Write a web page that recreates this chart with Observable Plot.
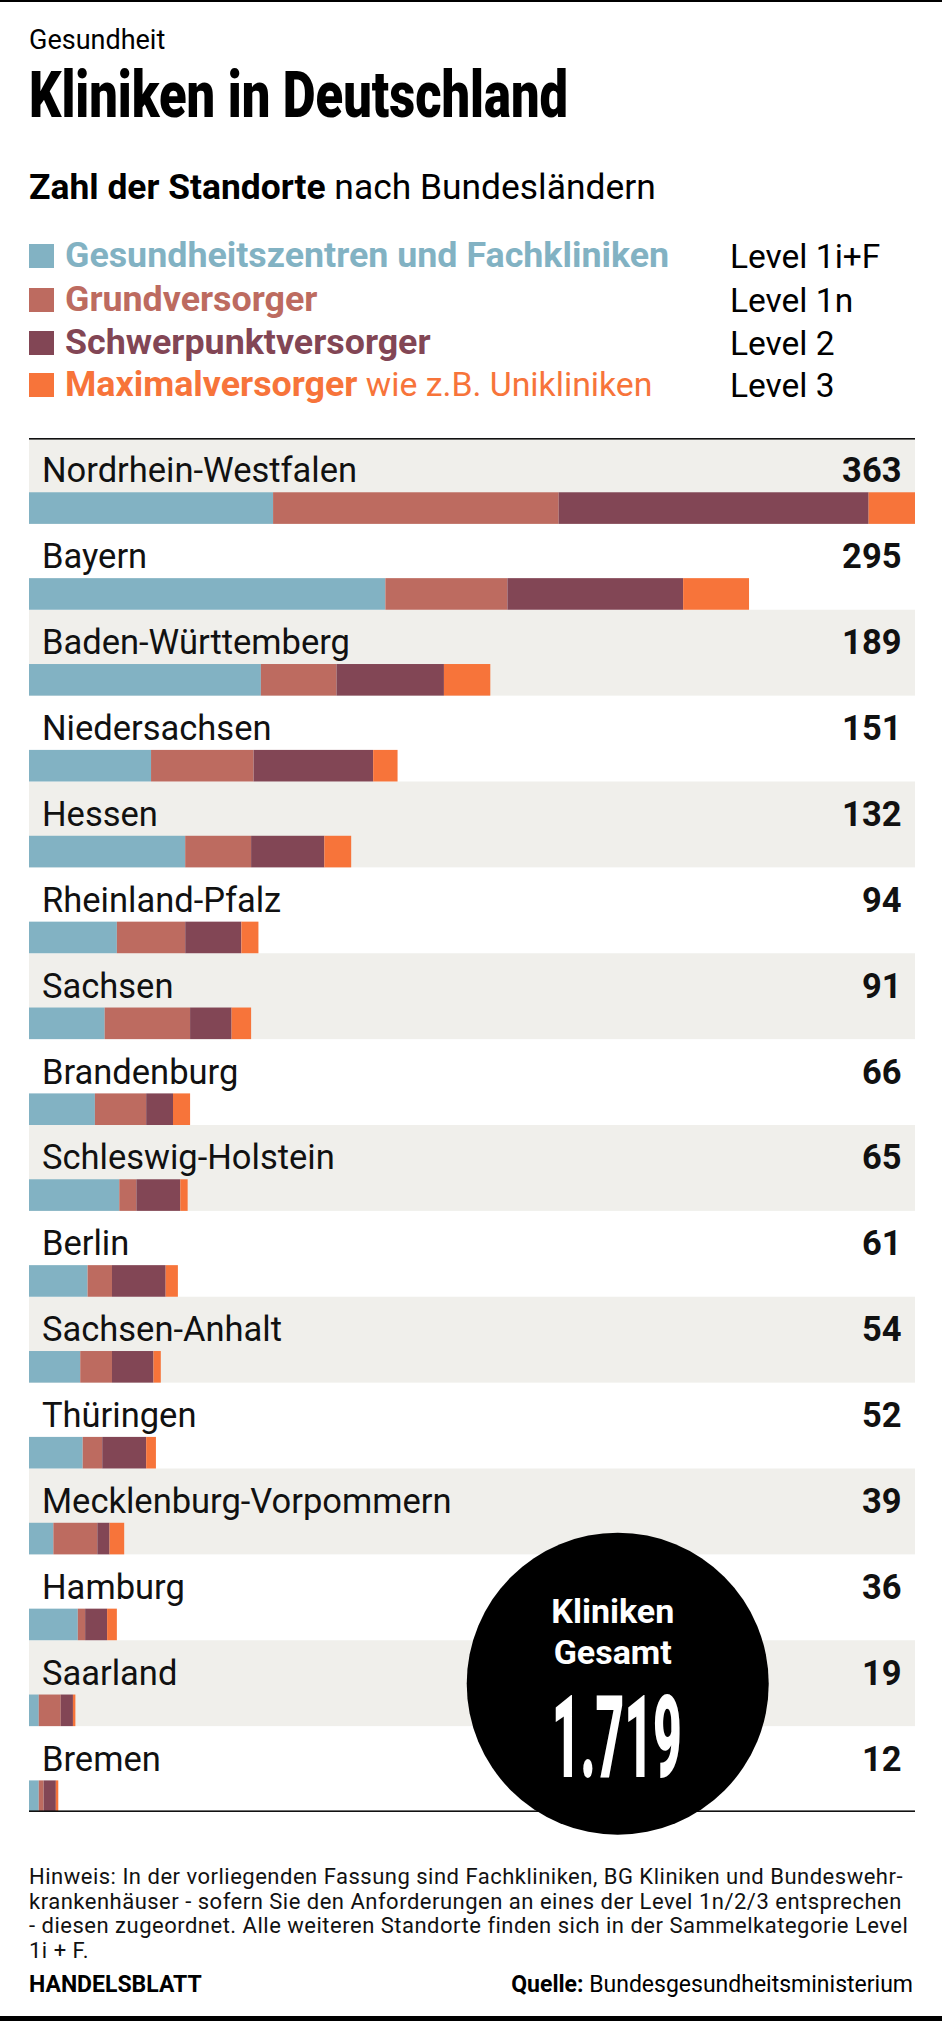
<!DOCTYPE html>
<html><head><meta charset="utf-8">
<script src="https://cdn.jsdelivr.net/npm/d3@7"></script>
<script src="https://cdn.jsdelivr.net/npm/@observablehq/plot@0.6"></script>
<style>
body{margin:0;background:#fff;font-family:Roboto,sans-serif;color:#000;}
#page{position:relative;width:942px;height:2021px;overflow:hidden;background:#fff;}
.abs{position:absolute;white-space:nowrap;line-height:1;}
.sq{position:absolute;width:25px;height:24px;}
#chart{position:absolute;left:0;top:420px;}
</style></head><body><div id="page">
<div class="abs" style="left:0;top:0;width:942px;height:2px;background:#000"></div>
<div class="abs" id="kicker" style="left:29px;top:27px;font-size:27px">Gesundheit</div>
<div class="abs" id="title" style="left:29px;top:63px;font-size:65px;font-weight:900;transform-origin:0 0">Kliniken in Deutschland</div>
<div class="abs" id="subtitle" style="left:29px;top:170px;font-size:35.4px"><b>Zahl der Standorte</b> nach Bundesländern</div>
<div id="legend"></div>
<div id="chart"></div>
<div class="abs" style="left:29px;top:1865px;font-size:22px;line-height:24.7px;letter-spacing:0.5px;color:#111">Hinweis: In der vorliegenden Fassung sind Fachkliniken, BG Kliniken und Bundeswehr-<br>krankenhäuser - sofern Sie den Anforderungen an eines der Level 1n/2/3 entsprechen<br>- diesen zugeordnet. Alle weiteren Standorte finden sich in der Sammelkategorie Level<br>1i + F.</div>
<div class="abs" style="left:29px;top:1973px;font-size:23px;font-weight:700">HANDELSBLATT</div>
<div class="abs" style="right:29px;top:1973px;font-size:23px"><b>Quelle:</b> Bundesgesundheitsministerium</div>
<div class="abs" style="left:0;top:2016px;width:942px;height:5px;background:#000"></div>
</div>
<script>
const states = ["Nordrhein-Westfalen","Bayern","Baden-Württemberg","Niedersachsen","Hessen","Rheinland-Pfalz","Sachsen","Brandenburg","Schleswig-Holstein","Berlin","Sachsen-Anhalt","Thüringen","Mecklenburg-Vorpommern","Hamburg","Saarland","Bremen"];
const level1iF = [100,146,95,50,64,36,31,27,37,24,21,22,10,20,4,4];
const level1n  = [117,50,31,42,27,28,35,21,7,10,13,8,18,3,9,2];
const level2   = [127,72,44,49,30,23,17,11,18,22,17,18,5,9,5,5];
const level3   = [19,27,19,10,11,7,8,7,3,5,3,4,6,4,1,1];
const totals   = [363,295,189,151,132,94,91,66,65,61,54,52,39,36,19,12];
const levels = ["Level 1i+F","Level 1n","Level 2","Level 3"];
const levelNames = ["Gesundheitszentren und Fachkliniken","Grundversorger","Schwerpunktversorger","Maximalversorger"];
const levelNotes = ["","","","wie z.B. Unikliniken"];
const levelColors = ["#82b2c3","#bd6b60","#824655","#f7743a"];
const badgeLines = ["Kliniken","Gesamt"];
const totalLabel = "1.719";

// legend
const legend = document.getElementById("legend");
const baselines = [268,312,355,397];
levels.forEach((lv,i)=>{
  const b = baselines[i];
  const sq = document.createElement("div"); sq.className="sq";
  sq.style.left="29px"; sq.style.top=(b-24)+"px"; sq.style.background=levelColors[i];
  legend.appendChild(sq);
  const t = document.createElement("div"); t.className="abs";
  t.style.left="65px"; t.style.top=(b-30)+"px"; t.style.fontSize="35.8px"; t.style.color=levelColors[i];
  t.innerHTML = `<b>${levelNames[i]}</b>${levelNotes[i] ? `<span style="font-size:33.8px"> ${levelNotes[i]}</span>` : ""}`;
  legend.appendChild(t);
  const l = document.createElement("div"); l.className="abs";
  l.style.left="730px"; l.style.top=(b-28.2)+"px"; l.style.fontSize="33.5px";
  l.textContent = lv;
  legend.appendChild(l);
});

// title condensed
const title = document.getElementById("title");
const tw = title.getBoundingClientRect().width;
title.style.transform = `scaleX(${539/tw})`;

const rows = states.flatMap((s,i)=>[level1iF,level1n,level2,level3].map((arr,j)=>({state:s, level:levels[j], value:arr[i]})));
const W = 942, H = 1425, mt = 18, mb = 33;
const bw = (H-mt-mb)/states.length;
const xMax = d3.max(totals);

const chart = Plot.plot({
  width: W, height: H, marginTop: mt, marginBottom: mb, marginLeft: 29, marginRight: 27,
  x: {domain: [0, xMax], axis: null},
  y: {domain: states, axis: null, padding: 0, round: false},
  color: {domain: levels, range: levelColors},
  style: {fontFamily: "Roboto, sans-serif", background: "transparent", color: "#000", overflow: "visible"},
  marks: [
    Plot.barX(states.filter((d,i)=>i%2===0), {y: d=>d, x1: 0, x2: xMax, fill: "#f0efeb"}),
    Plot.barX(rows, {y: "state", x: "value", fill: "level", insetTop: bw-31.6}),
    Plot.barX([states[0]], {y: d=>d, x1: 0, x2: xMax, fill: "#111", insetBottom: bw-1.6}),
    Plot.barX([states[states.length-1]], {y: d=>d, x1: 0, x2: xMax, fill: "#111", insetTop: bw-1.6}),
    Plot.text(states, {y: d=>d, x: 0, text: d=>d, textAnchor: "start", lineAnchor: "bottom", dx: 12.5, dy: 1, fontSize: 34.5, fill: "#111"}),
    Plot.text(states, {y: d=>d, text: (d,i)=>String(totals[i]), frameAnchor: "right", textAnchor: "end", lineAnchor: "bottom", dx: -14, dy: 1, fontSize: 34.5, fontWeight: 700, fill: "#111"}),
    Plot.dot([totalLabel], {x: ()=>241, y: ()=>"Saarland", r: 151, fill: "#000"}),
    Plot.text([badgeLines[0]], {x: ()=>241, y: ()=>"Saarland", text: d=>d, lineAnchor: "bottom", dx: -5, dy: -60.5, fontSize: 34, fontWeight: 700, fill: "#fff"}),
    Plot.text([badgeLines[1]], {x: ()=>241, y: ()=>"Saarland", text: d=>d, lineAnchor: "bottom", dx: -5, dy: -20, fontSize: 34, fontWeight: 700, fill: "#fff"}),
    Plot.text([totalLabel], {x: ()=>241, y: ()=>"Saarland", text: d=>d, lineAnchor: "bottom", dx: -1, dy: 93.5, fontSize: 115, fontWeight: 900, fill: "#fff"})
  ]
});
document.getElementById("chart").appendChild(chart);

// condense the big number
chart.querySelectorAll("text").forEach(el => {
  if (el.textContent.trim() !== totalLabel) return;
  let w = 0;
  try { w = el.getBBox().width; } catch (e) {}
  if (!w) { try { w = el.getComputedTextLength(); } catch (e) {} }
  if (!w) return;
  const s = 130 / w;
  const x = parseFloat(el.getAttribute("x")) || 0;
  const t = el.getAttribute("transform") || "";
  el.setAttribute("transform", `${t} translate(${x},0) scale(${s},1) translate(${-x},0)`.trim());
});
</script>
</body></html>
